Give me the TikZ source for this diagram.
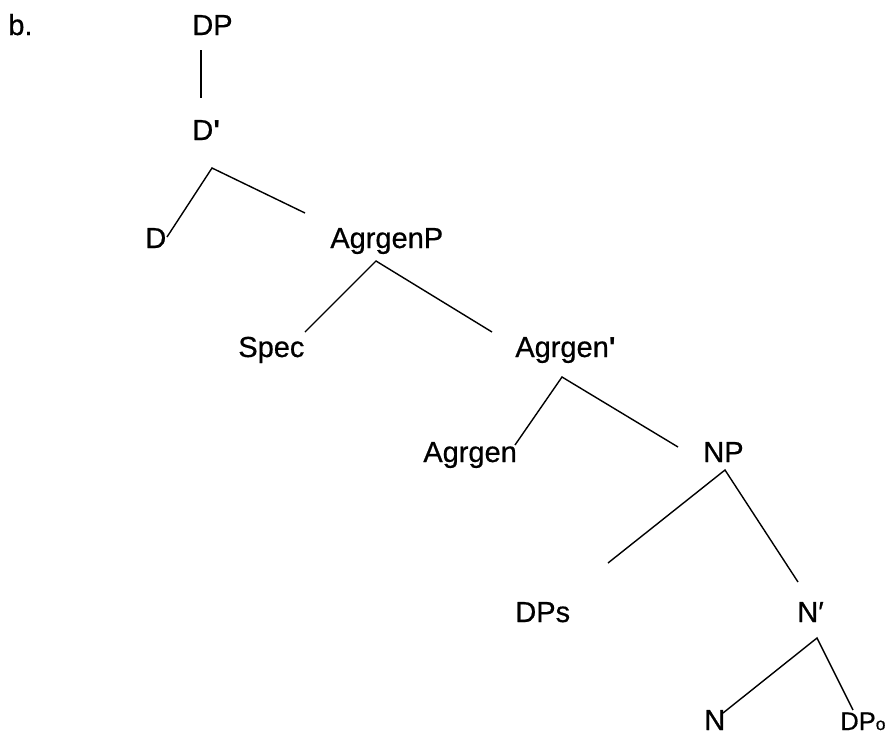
\documentclass[tikz,border=0pt]{standalone}
\usepackage{fontspec}
\setmainfont{Liberation Sans}[UprightFeatures={FakeBold=0.6}]
\tikzset{
	lbl/.style={anchor=base west, inner sep=0pt, font=\fontsize{16.5}{20}\selectfont},
	branch/.style={line width=0.8pt}
}
\newcommand{\brprime}{\textbf{\textquotesingle}}
\newcommand{\smallo}{{\fontsize{10}{12}\selectfont o}}
\begin{document}
\begin{tikzpicture}[x=0.02cm, y=-0.02cm]  % DP tree with agrgen
		\useasboundingbox (0,0) rectangle (887,734);
		\node[lbl] (lab) at (8,35) {b.};
		\node[lbl] (dp) at (192,35) {DP};
		\node[lbl] (dbar) at (192,140) {D\brprime};
		\node[lbl] (d) at (145,248) {D};
		\node[lbl] (agrp) at (330,248) {AgrgenP};
		\node[lbl] (spec) at (238,357) {Spec};
		\node[lbl] (agrbar) at (515,357) {Agrgen\brprime};
		\node[lbl] (agr) at (423,462) {Agrgen};
		\node[lbl] (np) at (703,462) {NP};
		\node[lbl] (dps) at (515,622) {DPs};
		\node[lbl] (nbar) at (797,622) {N′};
		\node[lbl] (n) at (704,730) {N};
		\node[lbl, font=\fontsize{14.5}{18}\selectfont] (dpo) at (840,730) {DP\smallo};
		% branch points
		\coordinate (dp-a) at (201,50);
		\coordinate (dp-b) at (201,98);
		\coordinate (dbar-l) at (167,237);
		\coordinate (dbar-a) at (212,168);
		\coordinate (dbar-r) at (305,213);
		\coordinate (agrp-l) at (305,332);
		\coordinate (agrp-a) at (376,261);
		\coordinate (agrp-r) at (492,332);
		\coordinate (agrbar-l) at (515,445);
		\coordinate (agrbar-a) at (562,377);
		\coordinate (agrbar-r) at (678,447);
		\coordinate (np-l) at (608,563);
		\coordinate (np-a) at (725,470);
		\coordinate (np-r) at (798,582);
		\coordinate (nbar-l) at (723,713);
		\coordinate (nbar-a) at (817,638);
		\coordinate (nbar-r) at (853,710);
		\draw[branch] (dp-a) -- (dp-b);
		\draw[branch] (dbar-l) -- (dbar-a) -- (dbar-r);
		\draw[branch] (agrp-l) -- (agrp-a) -- (agrp-r);
		\draw[branch] (agrbar-l) -- (agrbar-a) -- (agrbar-r);
		\draw[branch] (np-l) -- (np-a) -- (np-r);
		\draw[branch] (nbar-l) -- (nbar-a) -- (nbar-r);
	\end{tikzpicture}
\end{document}
